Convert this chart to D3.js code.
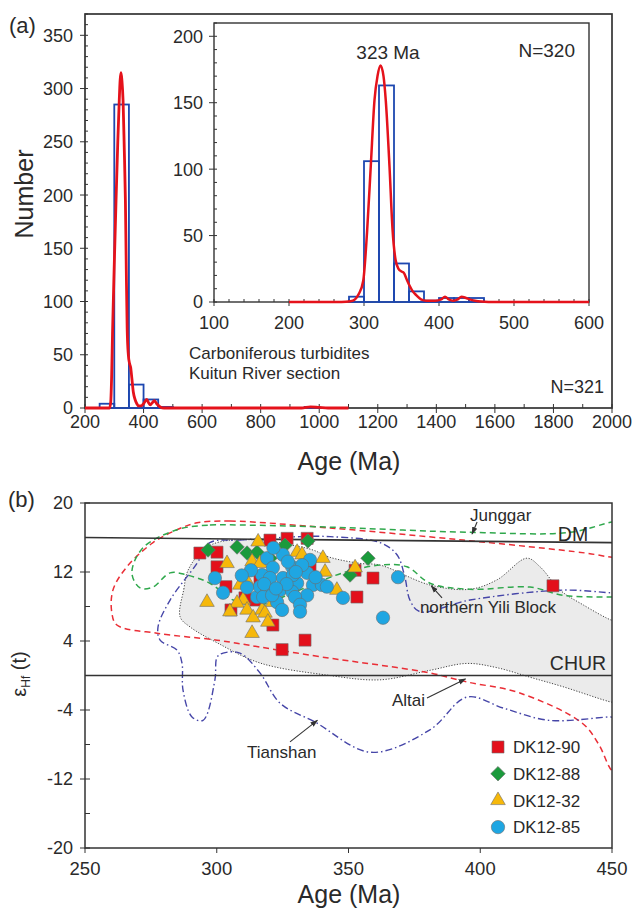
<!DOCTYPE html>
<html><head><meta charset="utf-8">
<script src="https://cdn.jsdelivr.net/npm/d3@7"></script>
<style>
body{margin:0;background:#fff}
text{font-family:"Liberation Sans",Arial,sans-serif;fill:#2a2a2a}
</style>
</head><body>
<svg id="fig" width="638" height="912"></svg>
<script>
// ---------- Panel (a): U-Pb age histograms ----------
// [binStart, binEnd, count]
const mainBins = [[250,300,4],[300,350,285],[350,400,22],[400,450,8],[450,500,1],[950,1000,1]];
const insetBins = [[280,300,4],[300,320,106],[320,340,163],[340,360,29],[360,380,8],[380,400,1],[400,420,3],[420,440,3],[440,460,3]];
// probability density curves scaled to counts: [age, value]
const mainCurve = [[200,0],[284,0],[288,6],[291,30],[294,70],[300,135],[306,195],[312,250],[317,289],[320,308],[323,315],[326,308],[330,289],[334,245],[338,195],[341,130],[344,75],[348,50],[352,42],[356,38],[360,28],[365,15],[371,8],[377,4],[383,2],[392,2],[400,4],[411,8],[417,5],[423,3],[430,5],[437,7],[445,4],[457,1],[470,0],[940,0],[970,1],[1000,0.5],[1030,0],[1100,0]];
const insetCurve = [[200,0],[270,0],[282,0.5],[288,2],[293,6],[299,16],[304,52],[309,102],[314,152],[318,170],[322,178],[326,170],[329,152],[334,102],[338,55],[342,32],[346,25],[350,23],[353,22],[357,17],[361,12],[365,8],[370,5],[376,2],[383,1],[395,1],[403,2],[408,4],[413,2],[419,1],[425,2],[430,4],[436,3],[441,2],[448,1],[456,0.3],[466,0],[600,0]];
const mainXTicks = [200,400,600,800,1000,1200,1400,1600,1800,2000];
const mainYTicks = [0,50,100,150,200,250,300,350];
const insetXTicks = [100,200,300,400,500,600];
const insetYTicks = [0,50,100,150,200];

// ---------- Panel (b): εHf(t) vs age ----------
// [age (Ma), εHf(t)]
const dk1290 = [[293.6,14.2],[300.1,14.3],[300.1,12.6],[303.5,10.3],[305.4,7.6],[314.9,8.75],[316.4,11.3],[320.2,15.7],[326.7,15.9],[334.3,15.9],[321.3,5.85],[333.5,4.1],[324.8,3.0],[335.4,12.6],[352.5,12.2],[353.2,9.1],[359.3,11.3],[427.6,10.4],[310.7,9.0]];
const dk1288 = [[296.7,14.55],[307.7,14.9],[311.5,14.2],[315.3,14.3],[325.9,15.1],[334.6,15.6],[350.6,11.65],[357.4,13.6],[320.2,13.6]];
const dk1232 = [[303.9,13.0],[296.3,8.5],[308.8,10.5],[311.9,10.7],[310.0,8.75],[307.7,8.4],[311.5,7.6],[313.8,6.7],[313.4,4.9],[315.7,15.5],[313.4,13.2],[316.4,13.0],[317.2,7.6],[330.5,14.3],[332.4,14.0],[340.3,13.6],[341.1,12.0],[318.3,7.25],[319.4,6.2],[321.3,8.5],[345.6,9.9],[352.5,12.5],[305.0,7.4]];
const dk1285 = [[299.3,11.3],[302.4,9.6],[317.2,11.65],[315.3,9.1],[316.4,10.3],[319.1,13.6],[325.1,14.0],[335.4,13.4],[321.3,12.5],[328.6,12.6],[334.3,11.9],[320.2,11.3],[325.1,11.3],[330.5,10.7],[336.5,10.5],[339.9,10.5],[319.1,9.7],[324.0,9.9],[328.6,9.7],[334.3,9.3],[317.6,9.1],[322.9,8.5],[329.7,9.1],[331.6,8.2],[324.8,7.6],[331.6,7.4],[321.0,9.3],[332.4,12.8],[328.9,11.65],[341.8,10.3],[347.9,9.0],[368.8,11.4],[363.1,6.7],[321.5,14.8],[327.0,13.2],[313.0,12.2],[318.0,10.6],[326.5,10.6],[330.0,12.0],[322.5,10.1],[309.5,11.6],[337.5,11.4],[311.5,10.2]];
// reference fields (closed outlines)
const yiliField = [[286.1,6.8],[287.5,10],[289.1,12.2],[294.8,14.55],[301.2,15.5],[316.4,15.7],[328.9,15.1],[336.5,14.55],[343,13.7],[354.4,13.0],[362,12.8],[380.9,10.5],[396.1,10.0],[406.4,11.1],[417.7,13.6],[422.7,12.6],[430.3,9.9],[439,8.2],[450,6.4],[451,6.4],[451,-3.1],[450,-3.1],[431.4,-1.3],[418.9,-0.2],[406.4,0.9],[395,1.4],[380.9,0.6],[362,-0.5],[341.8,0.05],[316.4,1.45],[300.1,3.8],[290,5.6]];
const altaiField = [[292.5,17.7],[305,17.9],[343,17.1],[393.5,15.7],[440,14.2],[450,13.7],[452,13.7],[452,-11],[450,-11],[445,-8],[438.6,-5.5],[414.7,-2.0],[395,-0.75],[380.9,0.3],[362,1.2],[343,2.0],[316.4,3.3],[300.1,4.1],[277.3,4.9],[262.1,5.85],[260.2,7.25],[260.6,9.9],[265.9,12.6],[275.8,15.4],[284.9,16.9]];
const tianshanField = [[297.4,15.4],[308.8,15.7],[331.6,16.1],[343,16.1],[362,15.4],[368.4,14.0],[371.4,11.4],[373.3,8.75],[377.1,7.4],[396.1,8.75],[431.4,9.9],[449.2,9.6],[452,9.6],[452,-4.8],[449,-4.8],[426.1,-5.2],[409,-3.8],[395,-2.5],[380.9,-6.3],[358.5,-8.9],[337.3,-5.4],[324,-3.2],[316.4,0.3],[308.8,2.6],[302.4,2.6],[300.1,2.1],[299.3,-0.5],[294.8,-5.2],[290.6,-4.8],[287.2,-1.7],[286.8,1.45],[284.9,2.95],[278.5,4.1],[277.7,5.6],[282.3,8.75],[292.5,13.0]];
const junggarField = [[284.9,16.9],[297.4,17.45],[308.8,17.45],[343,17.2],[396.1,16.6],[434.1,16.6],[450,17.8],[452,17.8],[452,9.1],[450,9.1],[431.4,9.3],[418.9,10.25],[396.1,10.0],[380.9,10.7],[372.2,12.6],[362,12.8],[347.9,11.9],[328.9,9.6],[316.4,8.2],[306.2,8.75],[297.4,10.7],[288.7,11.65],[282.3,11.9],[275.8,10.25],[270.9,10.15],[267.8,11.9],[272,14.8]];
const dmLine = [[250,16.0],[450,15.4]];
const churLine = [[250,0],[450,0]];
const bXTicks = [250,300,350,400,450];
const bYTicks = [20,12,4,-4,-12,-20];
const sampleNames = ["DK12-90","DK12-88","DK12-32","DK12-85"];

const svg = d3.select("#fig");
const frameCol = "#333";

function frame(x, y, w) {
  const [x0, x1] = x.range(), [y0, y1] = y.range();
  svg.append("rect").attr("x", x0).attr("y", y1).attr("width", x1 - x0).attr("height", y0 - y1)
    .attr("fill", "none").attr("stroke", frameCol).attr("stroke-width", w || 1.5);
}
function ticksY(y, xpos, values, dx1, dx2) {
  svg.append("g").selectAll("line").data(values).join("line")
    .attr("x1", xpos + dx1).attr("x2", xpos + dx2)
    .attr("y1", d => y(d)).attr("y2", d => y(d))
    .attr("stroke", frameCol).attr("stroke-width", 1);
}
function ticksX(x, ypos, values, dy1, dy2) {
  svg.append("g").selectAll("line").data(values).join("line")
    .attr("y1", ypos + dy1).attr("y2", ypos + dy2)
    .attr("x1", d => x(d)).attr("x2", d => x(d))
    .attr("stroke", frameCol).attr("stroke-width", 1);
}
function labelsY(y, xpos, values, size) {
  svg.append("g").selectAll("text").data(values).join("text")
    .attr("x", xpos).attr("y", d => y(d)).attr("dy", "0.36em")
    .attr("text-anchor", "end").attr("font-size", size).text(d => d);
}
function labelsX(x, ypos, values, size) {
  svg.append("g").selectAll("text").data(values).join("text")
    .attr("x", d => x(d)).attr("y", ypos)
    .attr("text-anchor", "middle").attr("font-size", size).text(d => d);
}

// ===== Panel (a) main histogram =====
const xA = d3.scaleLinear([200, 2000], [85, 612]);
const yA = d3.scaleLinear([0, 370], [408, 14]);
frame(xA, yA, 1.7);
ticksY(yA, 85, d3.range(0, 371, 10), 0, 3);
ticksY(yA, 85, mainYTicks, -5, 0);
ticksX(xA, 408, d3.range(200, 2001, 100), -4, 0);
ticksX(xA, 408, mainXTicks, 0, 5);
labelsY(yA, 73, mainYTicks, 18);
labelsX(xA, 428, mainXTicks, 18);

svg.append("g").selectAll("rect").data(mainBins).join("rect")
  .attr("x", d => xA(d[0])).attr("width", d => xA(d[1]) - xA(d[0]))
  .attr("y", d => yA(d[2])).attr("height", d => yA(0) - yA(d[2]))
  .attr("fill", "none").attr("stroke", "#1d47b0").attr("stroke-width", 1.8);
svg.append("path").datum(mainCurve)
  .attr("d", d3.line().x(d => xA(d[0])).y(d => yA(d[1])).curve(d3.curveMonotoneX))
  .attr("fill", "none").attr("stroke", "#e5121b").attr("stroke-width", 2.8);

// ===== Panel (a) inset =====
const xI = d3.scaleLinear([100, 600], [214, 589]);
const yI = d3.scaleLinear([0, 210], [302, 23]);
frame(xI, yI, 1.4);
ticksY(yI, 214, d3.range(0, 211, 10), 0, 3);
ticksY(yI, 214, insetYTicks, -5, 0);
ticksX(xI, 302, d3.range(100, 601, 20), -3, 0);
ticksX(xI, 302, insetXTicks, 0, 4);
labelsY(yI, 203, insetYTicks, 18);
labelsX(xI, 329, insetXTicks, 18);

svg.append("g").selectAll("rect").data(insetBins).join("rect")
  .attr("x", d => xI(d[0])).attr("width", d => xI(d[1]) - xI(d[0]))
  .attr("y", d => yI(d[2])).attr("height", d => yI(0) - yI(d[2]))
  .attr("fill", "none").attr("stroke", "#1d47b0").attr("stroke-width", 1.8);
svg.append("path").datum(insetCurve)
  .attr("d", d3.line().x(d => xI(d[0])).y(d => yI(d[1])).curve(d3.curveMonotoneX))
  .attr("fill", "none").attr("stroke", "#e5121b").attr("stroke-width", 2.5);

svg.append("text").attr("x", 9).attr("y", 33).attr("font-size", 22).text("(a)");
svg.append("text").attr("transform", "translate(33,194) rotate(-90)").attr("text-anchor", "middle")
  .attr("font-size", 25).text("Number");
svg.append("text").attr("x", 349).attr("y", 470).attr("text-anchor", "middle").attr("font-size", 25).text("Age (Ma)");
svg.append("text").attr("x", 575).attr("y", 57).attr("text-anchor", "end").attr("font-size", 19).text("N=320");
svg.append("text").attr("x", 388).attr("y", 59).attr("text-anchor", "middle").attr("font-size", 19).text("323 Ma");
svg.append("text").attr("x", 189).attr("y", 359).attr("font-size", 17).text("Carboniferous turbidites");
svg.append("text").attr("x", 189).attr("y", 379).attr("font-size", 17).text("Kuitun River section");
svg.append("text").attr("x", 604).attr("y", 393).attr("text-anchor", "end").attr("font-size", 18).text("N=321");

// ===== Panel (b) =====
const xB = d3.scaleLinear([250, 450], [85, 612]);
const yB = d3.scaleLinear([-20, 20], [848, 503]);
svg.append("defs").append("clipPath").attr("id", "clipB")
  .append("rect").attr("x", 85).attr("y", 503).attr("width", 527).attr("height", 345);
const gB = svg.append("g").attr("clip-path", "url(#clipB)");
const closed = d3.line().x(d => xB(d[0])).y(d => yB(d[1])).curve(d3.curveCatmullRomClosed.alpha(0.5));

gB.append("path").datum(yiliField).attr("d", closed)
  .attr("fill", "#ebebeb").attr("stroke", "#444").attr("stroke-width", 1).attr("stroke-dasharray", "1.2,1.6");
gB.append("path").datum(altaiField).attr("d", closed)
  .attr("fill", "none").attr("stroke", "#ea2e36").attr("stroke-width", 1.5).attr("stroke-dasharray", "6,4");
gB.append("path").datum(junggarField).attr("d", closed)
  .attr("fill", "none").attr("stroke", "#2fa84c").attr("stroke-width", 1.5).attr("stroke-dasharray", "6,4");
gB.append("path").datum(tianshanField).attr("d", closed)
  .attr("fill", "none").attr("stroke", "#4646a8").attr("stroke-width", 1.4).attr("stroke-dasharray", "7,3,1.5,3");

const straight = d3.line().x(d => xB(d[0])).y(d => yB(d[1]));
gB.append("path").datum(dmLine).attr("d", straight).attr("stroke", frameCol).attr("stroke-width", 1.6).attr("fill", "none");
gB.append("path").datum(churLine).attr("d", straight).attr("stroke", frameCol).attr("stroke-width", 1.6).attr("fill", "none");

const markerStyles = [
  {data: dk1290, type: d3.symbolSquare, size: 145, rot: 0, fill: "#e3101b"},
  {data: dk1288, type: d3.symbolSquare, size: 105, rot: 45, fill: "#1b9a3c"},
  {data: dk1232, type: d3.symbolTriangle, size: 92, rot: 0, fill: "#f6b80a"},
  {data: dk1285, type: d3.symbolCircle, size: 140, rot: 0, fill: "#1fa6e2"}
];
markerStyles.forEach(s => {
  gB.append("g").selectAll("path").data(s.data).join("path")
    .attr("d", d3.symbol().type(s.type).size(s.size))
    .attr("transform", d => `translate(${xB(d[0])},${yB(d[1])}) rotate(${s.rot})`)
    .attr("fill", s.fill).attr("stroke", "#6d6d6d").attr("stroke-width", 0.6);
});

frame(xB, yB, 1.5);
ticksY(yB, 85, d3.range(-20, 21, 4), 0, 5);
ticksY(yB, 85, bYTicks, -5, 0);
ticksX(xB, 848, bXTicks, 0, 5);
labelsY(yB, 73, bYTicks, 18);
labelsX(xB, 875, bXTicks, 18.5);

// annotations
svg.append("defs").append("marker").attr("id", "arr").attr("viewBox", "0 0 10 10")
  .attr("refX", 9).attr("refY", 5).attr("markerWidth", 7).attr("markerHeight", 7).attr("orient", "auto")
  .append("path").attr("d", "M0,1.5 L10,5 L0,8.5 Z").attr("fill", "#333");
const notes = [
  {text: "Junggar", at: [396.1, 17.9], from: [398.8, 17.8], to: [396.9, 16.4]},
  {text: "northern Yili Block", at: [377.1, 7.25], from: [385.5, 9.0], to: [381.4, 10.4]},
  {text: "Altai", at: [366.5, -3.5], from: [379.8, -2.6], to: [394.4, -0.4]},
  {text: "Tianshan", at: [311.5, -9.6], from: [327.8, -7.7], to: [338.2, -5.2]}
];
notes.forEach(n => {
  svg.append("text").attr("x", xB(n.at[0])).attr("y", yB(n.at[1])).attr("font-size", 17).text(n.text);
  svg.append("line").attr("x1", xB(n.from[0])).attr("y1", yB(n.from[1]))
    .attr("x2", xB(n.to[0])).attr("y2", yB(n.to[1]))
    .attr("stroke", "#333").attr("stroke-width", 1.1).attr("marker-end", "url(#arr)");
});
svg.append("text").attr("x", xB(435.2)).attr("y", yB(15.6)).attr("text-anchor", "middle").attr("font-size", 19.5).text("DM");
svg.append("text").attr("x", xB(437.1)).attr("y", yB(0.6)).attr("text-anchor", "middle").attr("font-size", 19.5).text("CHUR");

// legend
const leg = svg.append("g").attr("transform", "translate(498,747)");
markerStyles.forEach((s, i) => {
  leg.append("path").attr("d", d3.symbol().type(s.type).size(s.size))
    .attr("transform", `translate(0,${i * 26.7}) rotate(${s.rot})`)
    .attr("fill", s.fill).attr("stroke", "#6d6d6d").attr("stroke-width", 0.6);
  leg.append("text").attr("x", 15).attr("y", i * 26.7).attr("dy", "0.36em").attr("font-size", 17).text(sampleNames[i]);
});

svg.append("text").attr("x", 8).attr("y", 507).attr("font-size", 22).text("(b)");
const yl = svg.append("text").attr("transform", "translate(26,674) rotate(-90)").attr("text-anchor", "middle").attr("font-size", 20);
yl.append("tspan").text("ε");
yl.append("tspan").attr("font-size", 12).attr("dy", 4).text("Hf");
yl.append("tspan").attr("dy", -4).text(" (t)");
svg.append("text").attr("x", 349).attr("y", 903).attr("text-anchor", "middle").attr("font-size", 25).text("Age (Ma)");
</script>
</body></html>
